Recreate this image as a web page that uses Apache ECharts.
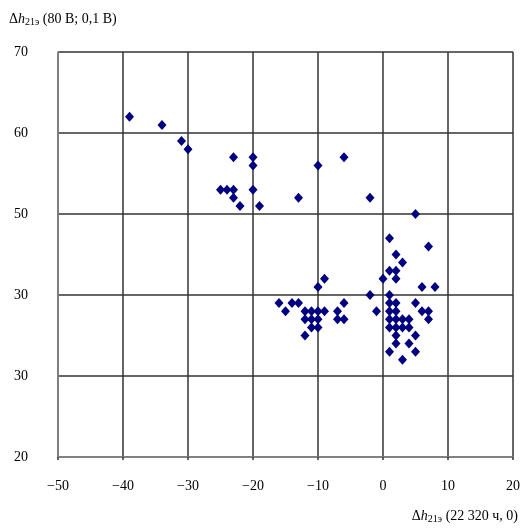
<!DOCTYPE html>
<html>
<head>
<meta charset="utf-8">
<script src="https://cdn.jsdelivr.net/npm/echarts@6/dist/echarts.min.js"></script>
<style>
  html, body { margin: 0; padding: 0; background: #fff; }
  #chart { width: 531px; height: 529px; }
</style>
</head>
<body>
<div id="chart"></div>
<script>
// Δh21э at 22 320 h (x) vs Δh21э at 80 V (y)
const deltaX = [
  -39, -34, -31, -30, -23, -20, -20, -25, -24, -23, -20, -23, -22, -19,
  -13, -10, -6, -2, 5,
  1, 7, 2, 3, 1, 2, 0, 2, 6, 8,
  -2, 1, -1, 1, 2, 5, 6, 7, 7, 1, 2, 1, 2, 3, 4, 1, 2, 3, 4, 2, 5, 2, 4, 1, 5, 3,
  -16, -14, -13, -15, -12, -11, -10, -9, -12, -11, -10, -11, -10, -12, -10, -9, -6, -7, -7, -6
]
const deltaY = [
  62, 61, 59, 58, 57, 57, 56, 53, 53, 53, 53, 52, 51, 51,
  52, 56, 57, 52, 50,
  47, 46, 45, 44, 43, 43, 42, 42, 41, 41,
  40, 40, 38, 39, 39, 39, 38, 38, 37, 38, 38, 37, 37, 37, 37, 36, 36, 36, 36, 35, 35, 34, 34, 33, 33, 32,
  39, 39, 39, 38, 38, 38, 38, 38, 37, 37, 37, 36, 36, 35, 41, 42, 39, 38, 37, 37
]
const xTicks = [-50, -40, -30, -20, -10, 0, 10, 20]
const yTickLabels = ['20', '30', '30', '50', '60', '70'] // as printed on the original axis

const points = deltaX.map((x, i) => [x, deltaY[i]])
const font = 'Liberation Serif, Times New Roman, serif'

const chart = echarts.init(document.getElementById('chart'))
chart.setOption({
  backgroundColor: '#fff',
  animation: false,
  title: [
    {
      text: 'Δ{i|h}{s|21э} (80 В; 0,1 В)',
      left: 4,
      top: 6,
      textStyle: {
        fontFamily: font, fontSize: 14, fontWeight: 'normal', color: '#000',
        rich: {
          i: { fontFamily: font, fontSize: 14, fontStyle: 'italic', color: '#000' },
          s: { fontFamily: font, fontSize: 10, color: '#000', padding: [6, 0, 0, 0] }
        }
      }
    },
    {
      text: 'Δ{i|h}{s|21э} (22 320 ч, 0)',
      right: 8,
      top: 503,
      textStyle: {
        fontFamily: font, fontSize: 14, fontWeight: 'normal', color: '#000',
        rich: {
          i: { fontFamily: font, fontSize: 14, fontStyle: 'italic', color: '#000' },
          s: { fontFamily: font, fontSize: 10, color: '#000', padding: [6, 0, 0, 0] }
        }
      }
    }
  ],
  grid: { left: 58, right: 18, top: 52, bottom: 72, containLabel: false },
  xAxis: {
    type: 'value',
    min: xTicks[0],
    max: xTicks[xTicks.length - 1],
    interval: 10,
    axisLine: { onZero: false, lineStyle: { color: '#8a8a8a', width: 1.5 } },
    axisTick: { show: true, length: 3, inside: false, lineStyle: { color: '#333', width: 1.5 } },
    axisLabel: {
      margin: 22,
      fontFamily: font, fontSize: 14, color: '#000',
      formatter: (v) => (v < 0 ? '\u2212' + Math.abs(v) : String(v))
    },
    splitLine: { show: true, lineStyle: { color: '#333', width: 1.5 } }
  },
  yAxis: {
    type: 'value',
    min: 20,
    max: 70,
    interval: 10,
    axisLine: { show: true, onZero: false, lineStyle: { color: '#8a8a8a', width: 1.5 } },
    axisTick: { show: false },
    axisLabel: {
      margin: 30,
      fontFamily: font, fontSize: 14, color: '#000',
      formatter: (v) => yTickLabels[Math.round((v - 20) / 10)]
    },
    splitLine: { show: true, lineStyle: { color: '#333', width: 1.5 } }
  },
  series: [
    {
      type: 'scatter',
      data: points,
      symbol: 'diamond',
      symbolSize: [9, 10],
      itemStyle: { color: '#000080', opacity: 1 }
    }
  ]
})
</script>
</body>
</html>
